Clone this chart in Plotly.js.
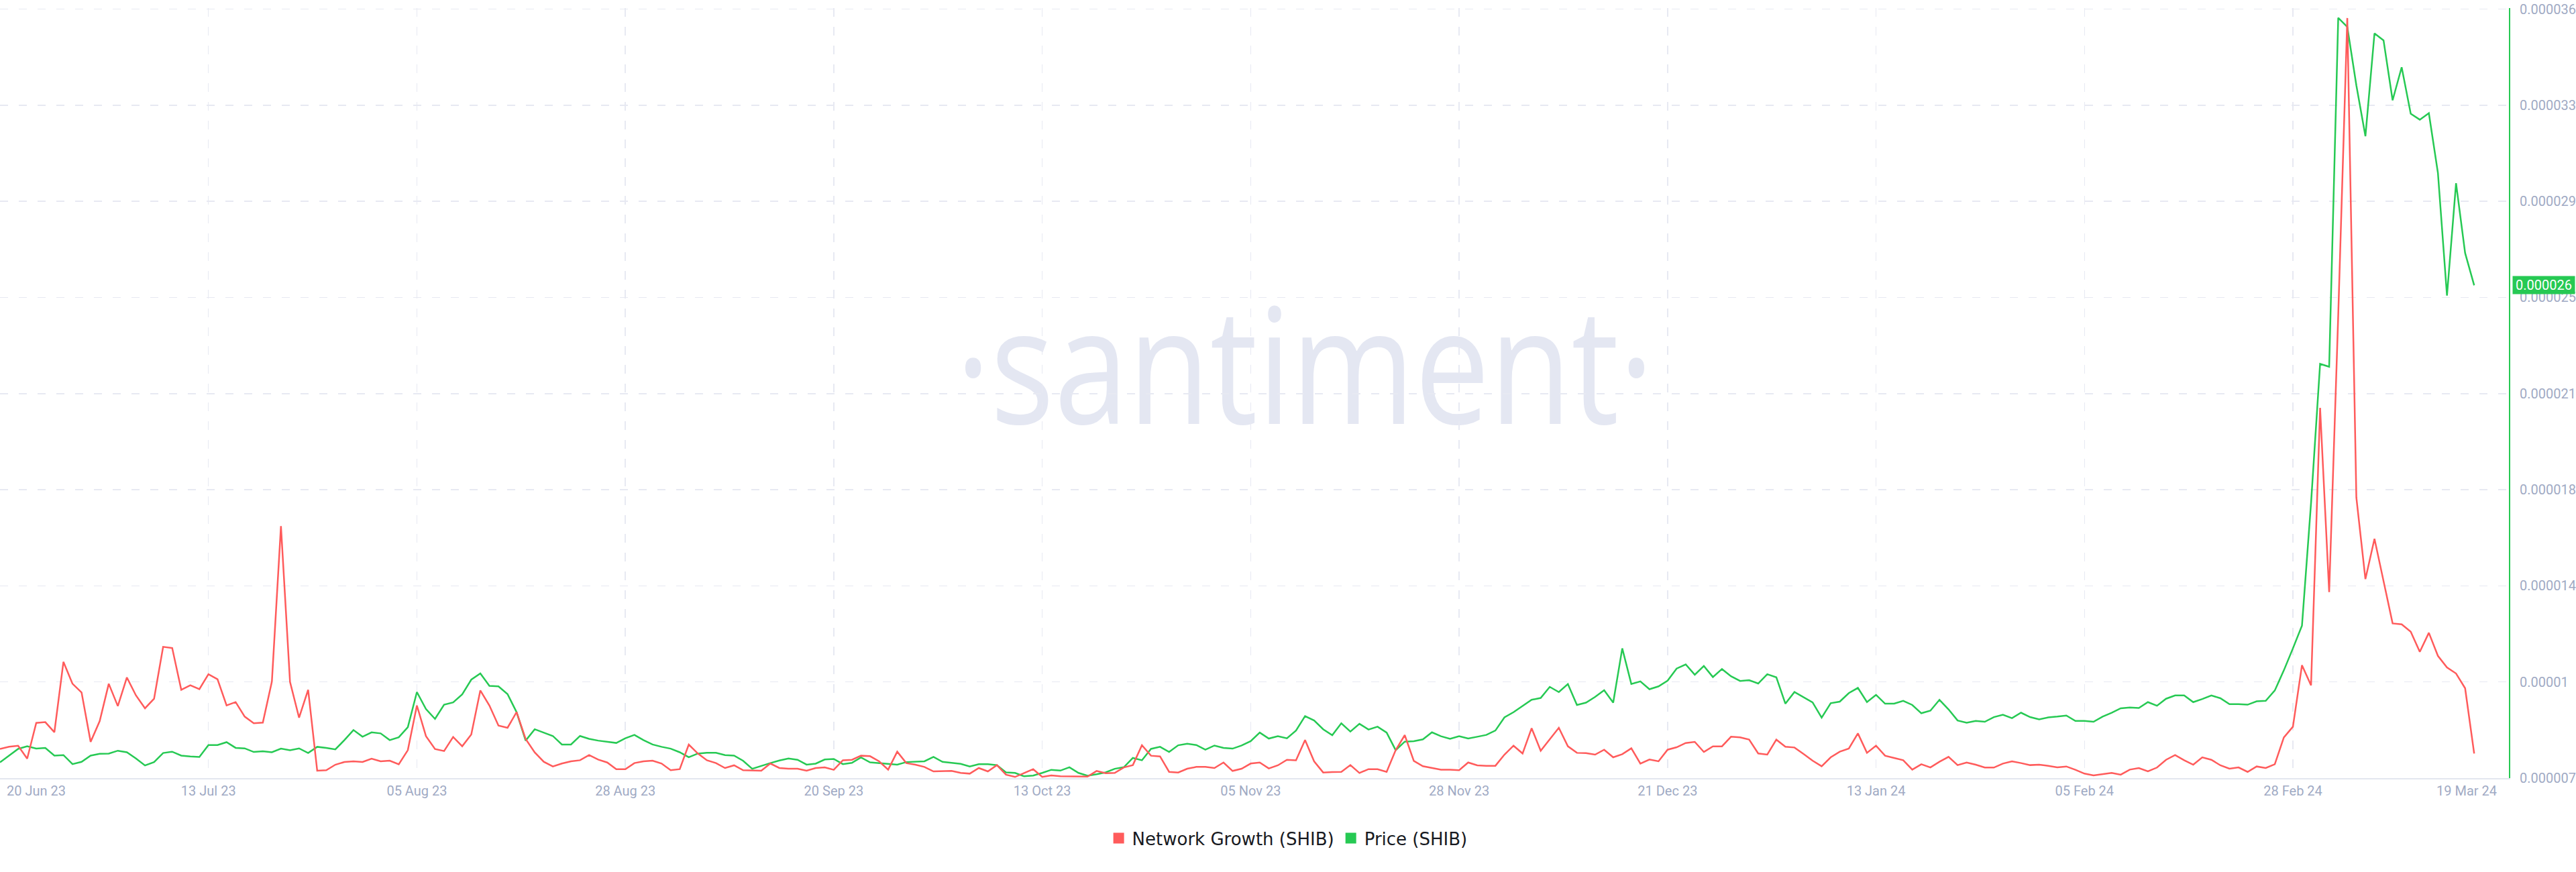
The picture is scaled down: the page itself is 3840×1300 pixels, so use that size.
<!DOCTYPE html>
<html>
<head>
<meta charset="utf-8">
<script src="https://cdn.plot.ly/plotly-3.0.1.min.js"></script>
<style>
html,body{margin:0;padding:0;background:#ffffff;}
#wrap{position:relative;width:3840px;height:1300px;overflow:hidden;background:#ffffff;}
#wm{position:absolute;left:1945px;top:418px;transform:translateX(-50%) scaleX(0.825);transform-origin:center top;font-family:'Open Sans',sans-serif;font-size:241px;line-height:1;color:#e4e7f2;white-space:nowrap;}
#chart{position:absolute;left:0;top:0;width:3840px;height:1300px;}
</style>
</head>
<body>
<div id="wrap">
  <div id="wm">·santiment·</div>
  <div id="chart"></div>
</div>
<script>
// Daily series, starting 20 Jun 2023
const startDate = '2023-06-20';

const networkGrowth = [
3.78,4.07,4.21,2.53,7.18,7.27,5.96,15.11,12.26,11.13,
4.71,7.41,12.26,9.36,13.08,10.75,9.07,10.32,17.06,16.91,
11.48,12.06,11.57,13.51,12.85,9.44,9.88,7.99,7.12,7.21,
12.55,32.75,12.50,7.85,11.48,0.96,1.02,1.74,2.09,2.18,
2.09,2.53,2.18,2.27,1.80,3.63,9.44,5.46,3.78,3.52,
5.35,4.13,5.67,11.39,9.44,6.83,6.54,8.57,5.09,3.34,
2.12,1.51,1.89,2.18,2.32,2.99,2.41,2.03,1.16,1.16,
1.95,2.18,2.27,1.89,1.02,1.16,4.36,3.20,2.32,1.95,
1.31,1.66,1.02,1.02,0.96,1.89,1.31,1.22,1.22,0.96,
1.31,1.39,1.08,2.32,2.38,2.91,2.85,2.18,1.10,3.43,
1.95,1.74,1.45,0.87,0.93,0.93,0.67,0.58,1.31,0.87,
1.69,0.44,0.15,0.64,1.16,0.15,0.35,0.23,0.23,0.23,
0.20,0.93,0.64,0.67,1.39,1.69,4.27,2.91,2.82,0.81,
0.73,1.22,1.45,1.45,1.31,2.03,0.93,1.22,1.89,2.03,
1.25,1.66,2.38,2.32,4.94,2.18,0.73,0.78,0.81,1.69,
0.67,1.16,1.16,0.81,3.63,5.58,2.24,1.54,1.31,1.10,
1.08,1.02,2.03,1.66,1.60,1.60,3.05,4.21,3.20,6.48,
3.55,5.09,6.54,4.13,3.28,3.25,3.05,3.69,2.70,3.11,
3.87,1.89,2.41,2.18,3.69,4.01,4.56,4.71,3.40,4.13,
4.13,5.38,5.29,5.00,3.20,3.05,5.00,4.07,3.98,3.14,
2.27,1.54,2.70,3.43,3.84,5.81,3.28,4.21,2.91,2.62,
2.32,1.10,1.80,1.39,2.12,2.76,1.69,2.03,1.74,1.37,
1.37,1.89,2.18,1.95,1.69,1.74,1.60,1.39,1.51,1.08,
0.58,0.35,0.52,0.67,0.44,1.10,1.31,0.87,1.37,2.38,
2.99,2.32,1.74,2.70,2.38,1.66,1.22,1.39,0.81,1.51,
1.31,1.80,5.29,6.68,14.68,12.06,48.13,24.18,60.16,98.80,
36.47,25.87,31.10,25.57,20.11,19.99,19.03,16.42,18.89,15.89,
14.39,13.60,11.68,3.20
];

const price = [
7.21e-6,7.48e-6,7.73e-6,7.83e-6,7.74e-6,7.77e-6,7.47e-6,7.49e-6,7.14e-6,7.23e-6,
7.47e-6,7.54e-6,7.55e-6,7.66e-6,7.60e-6,7.36e-6,7.09e-6,7.22e-6,7.57e-6,7.62e-6,
7.47e-6,7.44e-6,7.42e-6,7.88e-6,7.88e-6,7.99e-6,7.77e-6,7.75e-6,7.61e-6,7.64e-6,
7.60e-6,7.74e-6,7.68e-6,7.75e-6,7.57e-6,7.81e-6,7.77e-6,7.71e-6,8.07e-6,8.46e-6,
8.20e-6,8.37e-6,8.33e-6,8.07e-6,8.18e-6,8.57e-6,9.93e-6,9.27e-6,8.89e-6,9.44e-6,
9.53e-6,9.84e-6,10.41e-6,10.65e-6,10.17e-6,10.15e-6,9.85e-6,9.15e-6,8.05e-6,8.49e-6,
8.35e-6,8.23e-6,7.90e-6,7.90e-6,8.23e-6,8.12e-6,8.05e-6,8.00e-6,7.96e-6,8.14e-6,
8.27e-6,8.07e-6,7.90e-6,7.81e-6,7.74e-6,7.60e-6,7.41e-6,7.55e-6,7.58e-6,7.58e-6,
7.49e-6,7.47e-6,7.27e-6,6.96e-6,7.08e-6,7.18e-6,7.28e-6,7.36e-6,7.31e-6,7.12e-6,
7.16e-6,7.32e-6,7.34e-6,7.14e-6,7.19e-6,7.40e-6,7.21e-6,7.18e-6,7.14e-6,7.12e-6,
7.22e-6,7.23e-6,7.25e-6,7.42e-6,7.23e-6,7.19e-6,7.15e-6,7.05e-6,7.14e-6,7.14e-6,
7.10e-6,6.82e-6,6.80e-6,6.67e-6,6.70e-6,6.80e-6,6.92e-6,6.89e-6,7.02e-6,6.80e-6,
6.69e-6,6.75e-6,6.82e-6,6.96e-6,7.02e-6,7.38e-6,7.29e-6,7.73e-6,7.81e-6,7.61e-6,
7.87e-6,7.93e-6,7.88e-6,7.70e-6,7.86e-6,7.77e-6,7.74e-6,7.86e-6,8.03e-6,8.36e-6,
8.13e-6,8.22e-6,8.14e-6,8.44e-6,9.00e-6,8.83e-6,8.49e-6,8.26e-6,8.72e-6,8.40e-6,
8.70e-6,8.48e-6,8.59e-6,8.36e-6,7.68e-6,8.01e-6,8.03e-6,8.10e-6,8.37e-6,8.22e-6,
8.12e-6,8.22e-6,8.13e-6,8.20e-6,8.27e-6,8.44e-6,8.95e-6,9.15e-6,9.39e-6,9.63e-6,
9.70e-6,10.13e-6,9.93e-6,10.24e-6,9.43e-6,9.52e-6,9.74e-6,10.00e-6,9.52e-6,11.62e-6,
10.24e-6,10.34e-6,10.04e-6,10.15e-6,10.37e-6,10.84e-6,11.00e-6,10.60e-6,10.94e-6,10.51e-6,
10.82e-6,10.54e-6,10.36e-6,10.39e-6,10.26e-6,10.62e-6,10.50e-6,9.48e-6,9.93e-6,9.74e-6,
9.53e-6,8.94e-6,9.50e-6,9.56e-6,9.89e-6,10.09e-6,9.54e-6,9.82e-6,9.48e-6,9.48e-6,
9.59e-6,9.43e-6,9.11e-6,9.21e-6,9.63e-6,9.26e-6,8.83e-6,8.74e-6,8.81e-6,8.78e-6,
8.96e-6,9.05e-6,8.92e-6,9.13e-6,8.96e-6,8.87e-6,8.95e-6,8.98e-6,9.02e-6,8.81e-6,
8.81e-6,8.78e-6,8.98e-6,9.13e-6,9.30e-6,9.33e-6,9.31e-6,9.54e-6,9.40e-6,9.67e-6,
9.80e-6,9.80e-6,9.54e-6,9.66e-6,9.80e-6,9.69e-6,9.46e-6,9.46e-6,9.44e-6,9.57e-6,
9.59e-6,9.99e-6,10.77e-6,11.62e-6,12.50e-6,17.24e-6,22.63e-6,22.52e-6,36.02e-6,35.67e-6,
33.41e-6,31.44e-6,35.42e-6,35.15e-6,32.83e-6,34.11e-6,32.31e-6,32.08e-6,32.33e-6,30.02e-6,
25.27e-6,29.62e-6,26.92e-6,25.67e-6
];

const tickDates = ['2023-06-20','2023-07-13','2023-08-05','2023-08-28','2023-09-20','2023-10-13',
  '2023-11-05','2023-11-28','2023-12-21','2024-01-13','2024-02-05','2024-02-28','2024-03-19'];
const tickLabels = ['20 Jun 23','13 Jul 23','05 Aug 23','28 Aug 23','20 Sep 23','13 Oct 23',
  '05 Nov 23','28 Nov 23','21 Dec 23','13 Jan 24','05 Feb 24','28 Feb 24','19 Mar 24'];

const priceTickVals = [6.60e-6,10.32e-6,14.04e-6,17.76e-6,21.48e-6,25.20e-6,28.92e-6,32.64e-6,36.36e-6];
const priceTickText = ['0.000007','0.00001','0.000014','0.000018','0.000021','0.000025','0.000029','0.000033','0.000036'];

const seriesNames = ['Network Growth (SHIB)','Price (SHIB)'];
const RED = '#ff5b5b', GREEN = '#26c953', AXIS_TXT = '#9faac4', GRID = '#e7e9f2';

// daily date index
const dates = networkGrowth.map((_, i) => {
  const p = startDate.split('-').map(Number);
  return new Date(Date.UTC(p[0], p[1]-1, p[2]+i)).toISOString().slice(0,10);
});

const traces = [
  {x: dates, y: price, yaxis: 'y', type: 'scatter', mode: 'lines',
   line: {color: GREEN, width: 2.5}, showlegend: false, hoverinfo: 'skip'},
  {x: dates, y: networkGrowth, yaxis: 'y2', type: 'scatter', mode: 'lines',
   line: {color: RED, width: 2.5}, showlegend: false, hoverinfo: 'skip'},
  {x: [null], y: [null], yaxis: 'y2', type: 'scatter', mode: 'markers', name: seriesNames[0],
   marker: {symbol: 'square', size: 18, color: RED}},
  {x: [null], y: [null], yaxis: 'y', type: 'scatter', mode: 'markers', name: seriesNames[1],
   marker: {symbol: 'square', size: 18, color: GREEN}}
];

const lastPrice = price[price.length - 1];

const layout = {
  width: 3840, height: 1300,
  margin: {l: 0, r: 100, t: 12, b: 140},
  paper_bgcolor: 'rgba(0,0,0,0)', plot_bgcolor: 'rgba(0,0,0,0)',
  font: {family: 'Roboto, "Liberation Sans", sans-serif', color: AXIS_TXT, size: 20},
  showlegend: true,
  legend: {orientation: 'h', x: 0.5134, xanchor: 'center', y: -0.078, yanchor: 'middle',
    font: {family: '"DejaVu Sans", sans-serif', size: 26, color: '#181a22'},
    bgcolor: 'rgba(0,0,0,0)', traceorder: 'normal', itemwidth: 30},
  xaxis: {type: 'date', range: ['2023-06-20', '2024-03-22 20:00'],
    tickmode: 'array', tickvals: tickDates.slice(0, 12),
    ticktext: [''].concat(tickLabels.slice(1, 12)),
    ticks: '', showgrid: true, gridcolor: GRID, gridwidth: 1.5, griddash: '13px,15px',
    showline: true, linecolor: '#e3e6ef', linewidth: 2, zeroline: false,
    tickfont: {size: 20, color: AXIS_TXT}, fixedrange: true},
  yaxis: {side: 'right', range: [6.6e-6, 36.40e-6], tickmode: 'array',
    tickvals: priceTickVals, ticktext: priceTickText,
    showgrid: true, gridcolor: GRID, gridwidth: 1.5, griddash: '12px,16px',
    showline: true, linecolor: GREEN, linewidth: 2, zeroline: false, ticks: '',
    ticklabelstandoff: 10, tickfont: {size: 20, color: AXIS_TXT}, fixedrange: true},
  yaxis2: {overlaying: 'y', range: [0, 100.1], visible: false, fixedrange: true},
  annotations: [
    {xref: 'x', x: tickDates[0], yref: 'paper', y: 0, yanchor: 'middle', yshift: -19,
     xanchor: 'left', xshift: 8, text: tickLabels[0], showarrow: false,
     font: {size: 20, color: AXIS_TXT}},
    {xref: 'x', x: tickDates[12], yref: 'paper', y: 0, yanchor: 'middle', yshift: -19,
     xanchor: 'center', xshift: -11, text: tickLabels[12], showarrow: false,
     font: {size: 20, color: AXIS_TXT}},
    {xref: 'paper', x: 1, xanchor: 'left', xshift: 5, yref: 'y', y: lastPrice, yanchor: 'middle',
     text: lastPrice.toFixed(6), showarrow: false, bgcolor: GREEN, borderpad: 1, width: 90,
     font: {size: 20, color: '#ffffff'}}
  ]
};

Plotly.newPlot('chart', traces, layout, {displayModeBar: false, staticPlot: true});
</script>
</body>
</html>
